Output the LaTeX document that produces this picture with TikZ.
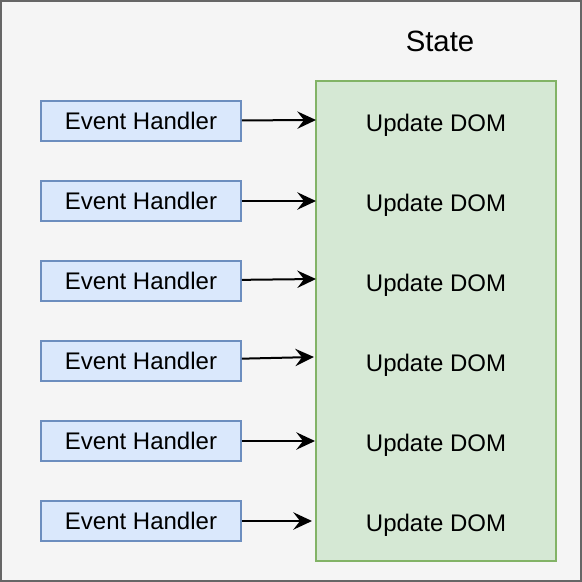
\documentclass[tikz,border=0pt]{standalone}
\usepackage{fontspec}
\setmainfont{Liberation Sans}
\usepackage{xcolor}
\usepackage{tikz}
\usetikzlibrary{arrows.meta}

\definecolor{bggray}{HTML}{F5F5F5}
\definecolor{framegray}{HTML}{666666}
\definecolor{handlerfill}{HTML}{DAE8FC}
\definecolor{handlerline}{HTML}{6C8EBF}
\definecolor{statefill}{HTML}{D5E8D4}
\definecolor{stateline}{HTML}{82B366}

\begin{document}
\begin{tikzpicture}[x=0.75pt, y=-0.75pt,
    handler/.style={draw=handlerline, fill=handlerfill, line width=1.2pt,
        minimum width=150pt, minimum height=30pt, inner sep=0pt,
        font=\fontsize{18}{20}\selectfont},
    statebox/.style={draw=stateline, fill=statefill, line width=1.2pt,
        minimum width=180pt, minimum height=360pt, inner sep=0pt},
    domlabel/.style={font=\fontsize{18}{20}\selectfont, text depth=0pt},
    conn/.style={line width=1.5pt,
        -{Stealth[length=14pt, width=13pt, inset=5pt]}}]

% Canvas
\useasboundingbox (0,0) rectangle (582,582);
\draw[draw=framegray, fill=bggray, line width=1.5pt] (1,1) rectangle (581,581);

% State box
\node[statebox] (state) at (436,321) {};
\node[font=\fontsize{22}{25}\selectfont] (statelabel) at (440,41) {State};

% Handlers and updates
\foreach \i/\y/\tx/\ty in {
    1/121/316/120,
    2/201/316/201,
    3/281/316/279,
    4/361/314/357,
    5/441/315/441,
    6/521/312/521
} {
    \node[handler] (ev\i) at (141,\y) {Event Handler};
    \node[domlabel] (dom\i) at (436,\y+2) {Update DOM};
    \coordinate (tip\i) at (\tx,\ty);
    \draw[conn] (ev\i) -- (tip\i);
}

\end{tikzpicture}
\end{document}
